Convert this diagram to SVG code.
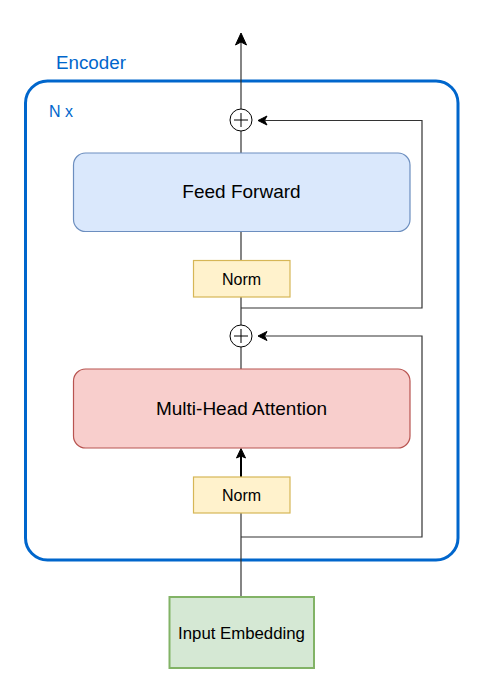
<svg xmlns="http://www.w3.org/2000/svg" width="484" height="695" viewBox="0 0 484 695">
<style>
text{font-family:"Liberation Sans",Arial,Helvetica,sans-serif;text-anchor:middle;dominant-baseline:central;fill:#000}
.ln{fill:none;stroke:#333;stroke-width:1.2}
.ah{fill:#000;stroke:#000;stroke-width:1;stroke-linejoin:miter}
.norm{fill:#fff2cc;stroke:#d6b656;stroke-width:1.2}
.plus{fill:#fff;stroke:#000;stroke-width:1}
</style>
<rect width="484" height="695" fill="#fff"/>
<g id="encoder">
<rect x="25.5" y="81" width="432.5" height="479" rx="22" ry="22" fill="none" stroke="#0066cc" stroke-width="3"/>
<text x="56" y="62" style="text-anchor:start;fill:#0066cc;font-size:18.8px">Encoder</text>
<text x="49" y="111" style="text-anchor:start;fill:#0066cc;font-size:16px">N x</text>
</g>
<g id="connectors">
<line class="ln" x1="241" y1="109" x2="241" y2="42"/>
<path class="ah" d="M241,33 L246.5,45 L241,42 L235.5,45 Z"/>
<line class="ln" x1="241" y1="131" x2="241" y2="153"/>
<line class="ln" x1="241" y1="231" x2="241" y2="260"/>
<line class="ln" x1="241" y1="297" x2="241" y2="325"/>
<line class="ln" x1="241" y1="347" x2="241" y2="369"/>
<line x1="241" y1="477" x2="241" y2="456" stroke="#000" stroke-width="2"/>
<path class="ah" d="M241,448.5 L245.5,458 L241,456 L236.5,458 Z"/>
<line class="ln" x1="241" y1="513" x2="241" y2="597"/>
<polyline class="ln" points="241,308 422,308 422,120.5 265,120.5"/>
<path class="ah" d="M258,120.5 L267,116 L264.5,120.5 L267,125 Z"/>
<polyline class="ln" points="241,537 422,537 422,336 265,336"/>
<path class="ah" d="M258,336 L267,331.5 L264.5,336 L267,340.5 Z"/>
</g>
<g id="plus1">
<circle class="plus" cx="241" cy="120" r="11"/>
<path d="M234,120 H248 M241,113 V127" stroke="#000" stroke-width="1"/>
</g>
<g id="feedforward">
<rect x="73.5" y="153" width="336.5" height="78.5" rx="12" ry="12" fill="#dae8fc" stroke="#6c8ebf" stroke-width="1.2"/>
<text x="241.5" y="191" style="font-size:19px">Feed Forward</text>
</g>
<g id="norm1">
<rect class="norm" x="193.5" y="260.5" width="96.5" height="36.5"/>
<text x="241.5" y="279" style="font-size:16px">Norm</text>
</g>
<g id="plus2">
<circle class="plus" cx="241" cy="336" r="11"/>
<path d="M234,336 H248 M241,329 V343" stroke="#000" stroke-width="1"/>
</g>
<g id="mha">
<rect x="73.5" y="369" width="336.5" height="79" rx="12" ry="12" fill="#f8cecc" stroke="#b85450" stroke-width="1.2"/>
<text x="241.5" y="408" style="font-size:19px">Multi-Head Attention</text>
</g>
<g id="norm2">
<rect class="norm" x="193.5" y="477" width="96.5" height="36"/>
<text x="241.5" y="495" style="font-size:16px">Norm</text>
</g>
<g id="input">
<rect x="169.5" y="597" width="144.5" height="71" fill="#d5e8d4" stroke="#82b366" stroke-width="2"/>
<text x="241.5" y="633" style="font-size:16.8px">Input Embedding</text>
</g>
</svg>
